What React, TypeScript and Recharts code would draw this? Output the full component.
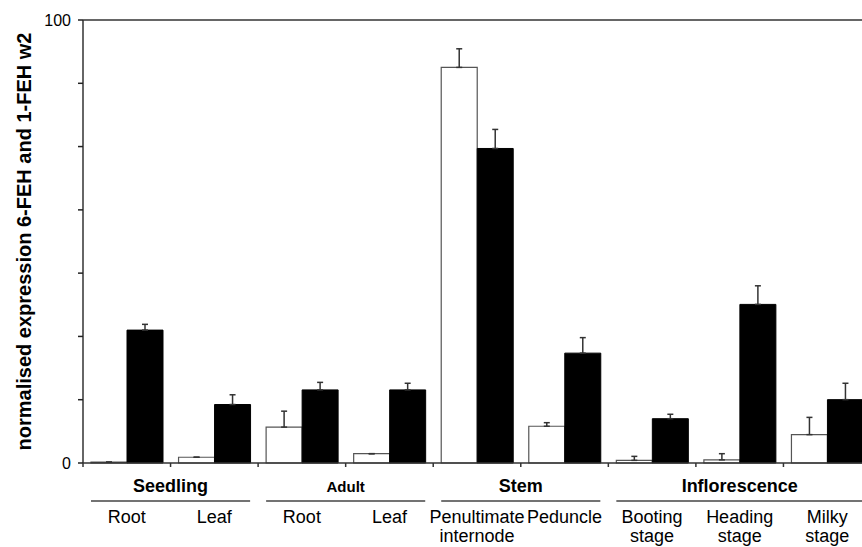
import {
  Bar,
  BarChart,
  ErrorBar,
  ReferenceLine,
  XAxis,
  YAxis,
} from "recharts";

const categories = [
  "Root",
  "Leaf",
  "Root",
  "Leaf",
  "Penultimate\ninternode",
  "Peduncle",
  "Booting\nstage",
  "Heading\nstage",
  "Milky\nstage",
];
const groupNames = ["Seedling", "Adult", "Stem", "Inflorescence"];
const groupSpans = [2, 2, 2, 3];

const sixFeh = [0.2, 1.3, 8.1, 2.1, 89.3, 8.3, 0.6, 0.7, 6.4];
const sixFehErr = [0, 0, 3.6, 0, 4.2, 0.8, 0.9, 1.4, 3.9];
const oneFehW2 = [30.0, 13.2, 16.5, 16.5, 71.0, 24.8, 10.0, 35.8, 14.3];
const oneFehW2Err = [1.3, 2.2, 1.7, 1.5, 4.3, 3.5, 1.0, 4.2, 3.7];

const yTicks = [0, 14.29, 28.57, 42.86, 57.14, 71.43, 85.71, 100];

const CHART_W = 880;
const CHART_H = 547;
const Y_AXIS_W = 83;
const RIGHT = 9;
const BAND = (CHART_W - Y_AXIS_W - RIGHT) / categories.length;
const FONT = "'Liberation Sans', Arial, sans-serif";
const groupFontSize = [18, 15, 18, 18];

const data = categories.map((name, i) => ({
  name,
  sixFeh: sixFeh[i],
  sixFehErr: [0, sixFehErr[i]],
  oneFehW2: oneFehW2[i],
  oneFehW2Err: [0, oneFehW2Err[i]],
}));

function CategoryTick(props: any) {
  const { x, y, index, payload } = props;
  const lines = String(payload.value).split("\n");
  const left = x - BAND / 2;

  let start = 0;
  let group = -1;
  groupSpans.forEach((span, g) => {
    if (index === start) group = g;
    start += span;
  });

  return (
    <g>
      <line x1={left} x2={left} y1={y} y2={y + 4} stroke="#333" strokeWidth={1.5} />
      {index === categories.length - 1 && (
        <line x1={left + BAND} x2={left + BAND} y1={y} y2={y + 4} stroke="#333" strokeWidth={1.5} />
      )}
      {lines.map((t, k) => (
        <text
          key={k}
          x={x}
          y={y + 60 + k * 18.5}
          textAnchor="middle"
          fontSize={18}
          fontFamily={FONT}
          fill="#000"
        >
          {t}
        </text>
      ))}
      {group >= 0 && (
        <g>
          <text
            x={left + (groupSpans[group] * BAND) / 2}
            y={y + 28.5}
            textAnchor="middle"
            fontSize={groupFontSize[group]}
            fontWeight="bold"
            fontFamily={FONT}
            fill="#000"
          >
            {groupNames[group]}
          </text>
          <line
            x1={left + 8}
            x2={left + groupSpans[group] * BAND - 8}
            y1={y + 38}
            y2={y + 38}
            stroke="#444"
            strokeWidth={1.5}
          />
        </g>
      )}
    </g>
  );
}

function YLabel(props: any) {
  const vb = props.viewBox || { y: 20, height: 443 };
  const cy = vb.y + vb.height / 2;
  return (
    <text
      x={31}
      y={cy}
      transform={`rotate(-90, 31, ${cy})`}
      textAnchor="middle"
      fontSize={20}
      fontWeight="bold"
      fontFamily={FONT}
      fill="#000"
    >
      normalised expression 6-FEH and 1-FEH w2
    </text>
  );
}

export default function App() {
  return (
    <div
      style={{
        position: "absolute",
        left: 0,
        top: 0,
        width: 862,
        height: 547,
        overflow: "hidden",
        background: "#fff",
      }}
    >
      <BarChart
        width={CHART_W}
        height={CHART_H}
        data={data}
        margin={{ top: 20, right: RIGHT, bottom: 0, left: 0 }}
        barGap={0}
      >
        <XAxis
          dataKey="name"
          interval={0}
          height={84}
          tickLine={false}
          tickSize={0}
          tickMargin={0}
          axisLine={{ stroke: "#333", strokeWidth: 1.5 }}
          tick={(p: any) => <CategoryTick {...p} />}
        />
        <YAxis
          width={Y_AXIS_W}
          domain={[0, 100]}
          ticks={yTicks}
          interval={0}
          tickSize={5}
          tickMargin={7}
          axisLine={{ stroke: "#333", strokeWidth: 1.5 }}
          tickLine={{ stroke: "#222", strokeWidth: 1.5 }}
          tick={{ fill: "#000", fontSize: 16, fontFamily: FONT }}
          tickFormatter={(v: number) => (v === 0 || v === 100 ? String(v) : "")}
          label={{ content: (p: any) => <YLabel {...p} /> }}
        />
        <ReferenceLine y={100} stroke="#333" strokeWidth={1.5} />
        <Bar
          dataKey="sixFeh"
          fill="#fff"
          stroke="#555"
          strokeWidth={1.2}
          barSize={36}
          isAnimationActive={false}
        >
          <ErrorBar dataKey="sixFehErr" direction="y" width={3} stroke="#333" strokeWidth={1.5} />
        </Bar>
        <Bar
          dataKey="oneFehW2"
          fill="#000"
          stroke="#000"
          strokeWidth={1}
          barSize={36}
          isAnimationActive={false}
        >
          <ErrorBar dataKey="oneFehW2Err" direction="y" width={3} stroke="#333" strokeWidth={1.5} />
        </Bar>
      </BarChart>
    </div>
  );
}
